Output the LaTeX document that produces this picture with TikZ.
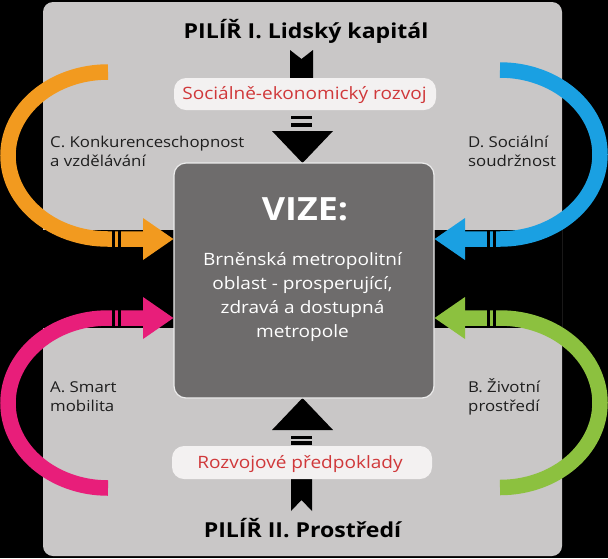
\documentclass[tikz,border=0pt]{standalone}
\usepackage{fontspec}
\setmainfont{Open Sans}[FakeStretch=1.12]
\definecolor{bggray}{HTML}{C9C7C7}
\definecolor{vizefill}{HTML}{6E6C6C}
\definecolor{pillfill}{HTML}{F3F1F1}
\definecolor{pilltext}{HTML}{D0383A}
\definecolor{corange}{HTML}{F29A1F}
\definecolor{cblue}{HTML}{1AA0E2}
\definecolor{cpink}{HTML}{E81E7A}
\definecolor{cgreen}{HTML}{8CC13F}
\definecolor{labeltext}{HTML}{1E1E1E}
\begin{document}
\begin{tikzpicture}[x=1pt,y=-1pt,
  lbl/.style={font=\fontsize{15}{19}\selectfont, text=labeltext, align=left, inner sep=0pt, anchor=base west},
  pillbox/.style={fill=pillfill, rounded corners=12pt},
  pilltxt/.style={font=\fontsize{17}{20}\selectfont, text=pilltext, inner sep=0pt, anchor=base},
  titletxt/.style={font=\bfseries\fontsize{20.6}{24}\selectfont, text=black, inner sep=0pt, anchor=base},
  band/.style={line width=15.5pt, line cap=butt},
  tickmark/.style={fill=black},
  blackshape/.style={fill=black}
]
\useasboundingbox (0,0) rectangle (608,558);
% background
\fill[black] (0,0) rectangle (608,558);
\fill[bggray, rounded corners=10pt] (43,2) rectangle (562,556);
\fill[black] (43,229.5) rectangle (562,327.5);

% top arrow (Pillar I)
\fill[blackshape] (290,50) -- (301.5,59) -- (313,50) -- (313,90) -- (290,90) -- cycle;
\fill[pillbox] (174,78) rectangle (436,110);
\fill[black] (291,116) rectangle (312,119.3);
\fill[black] (291,123.3) rectangle (312,126.6);
\fill[blackshape] (272,131) -- (333,131) -- (302.5,163) -- cycle;

% bottom arrow (Pillar II)
\fill[blackshape] (291,470) -- (312,470) -- (312,511) -- (301.5,500) -- (291,511) -- cycle;
\fill[pillbox] (172,446) rectangle (432,479);
\fill[black] (291,435.5) rectangle (312,438.8);
\fill[black] (291,441.3) rectangle (312,444.6);
\fill[blackshape] (272,430) -- (333,430) -- (302.5,398) -- cycle;

% vision box
\node[draw=white!85!gray, line width=1.2pt, fill=vizefill, rounded corners=12pt,
      minimum width=260pt, minimum height=235pt, inner sep=0pt] (vize) at (304,280.5) {};

% curved arrows
\coordinate (oend) at (108,72);
\draw[band, corange] (oend) arc[start angle=-90, end angle=-270, x radius=100, y radius=83.5] -- (145,239);
\fill[corange] (143,218) -- (vize.west |- 0,239) -- (143,260) -- cycle;
\fill[tickmark] (112,230.5) rectangle (114.6,247.5);
\fill[tickmark] (118,230.5) rectangle (120.6,247.5);

\coordinate (pend) at (108,488);
\draw[band, cpink] (143,318) -- (108,318) arc[start angle=-90, end angle=-270, x radius=100, y radius=85];
\fill[cpink] (143,297) -- (vize.west |- 0,318) -- (143,339) -- cycle;
\fill[tickmark] (112,309.5) rectangle (114.6,326.5);
\fill[tickmark] (118,309.5) rectangle (120.6,326.5);

\coordinate (bend) at (500,70);
\draw[band, cblue] (bend) arc[start angle=-90, end angle=90, x radius=100, y radius=84.5] -- (463,239);
\fill[cblue] (465,218) -- (vize.east |- 0,239) -- (465,260) -- cycle;
\fill[tickmark] (493.4,230.5) rectangle (496,247.5);
\fill[tickmark] (487.4,230.5) rectangle (490,247.5);

\coordinate (gend) at (500,487.5);
\draw[band, cgreen] (463,318) -- (500,318) arc[start angle=-90, end angle=90, x radius=100, y radius=84.75];
\fill[cgreen] (465,297) -- (vize.east |- 0,318) -- (465,339) -- cycle;
\fill[tickmark] (493.4,309.5) rectangle (496,326.5);
\fill[tickmark] (487.4,309.5) rectangle (490,326.5);

% texts
\node[titletxt] (p1) at (306,38) {PILÍŘ I. Lidský kapitál};
\node[titletxt] (p2) at (302.5,537) {PILÍŘ II. Prostředí};
\node[pilltxt] (s1) at (304.5,99.5) {Sociálně-ekonomický rozvoj};
\node[pilltxt] (s2) at (300,468) {Rozvojové předpoklady};

\node[font=\bfseries\fontsize{32}{35}\selectfont, text=white, inner sep=0pt, anchor=base] (vt) at (305,220) {VIZE:};
\node[font=\fontsize{17}{24}\selectfont, text=white, align=center, inner sep=0pt, anchor=base] (vb) at (302.5,337)
  {Brněnská metropolitní\\oblast - prosperující,\\zdravá a dostupná\\metropole};

\node[lbl] (lc) at (50,166) {C. Konkurenceschopnost\\a vzdělávání};
\node[lbl] (ld) at (468,166) {D. Sociální\\soudržnost};
\node[lbl] (la) at (50,411) {A. Smart\\mobilita};
\node[lbl] (lb) at (468,411) {B. Životní\\prostředí};
\end{tikzpicture}
\end{document}
